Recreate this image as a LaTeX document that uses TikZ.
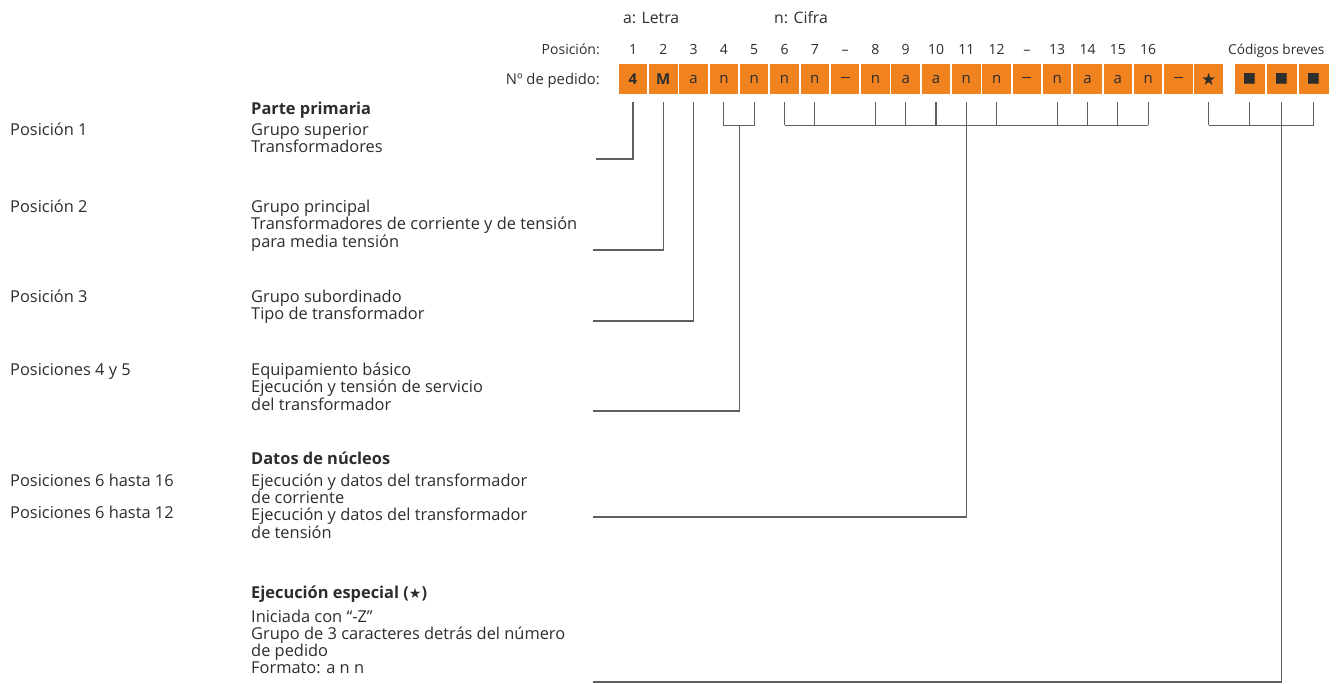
\documentclass[tikz,border=0pt]{standalone}
\usepackage{fontspec}
\setmainfont{Open Sans}
\newfontfamily\symfont{DejaVu Sans}
\usetikzlibrary{calc}
\definecolor{sorange}{RGB}{240,130,32}
\definecolor{txtc}{RGB}{45,45,45}
\definecolor{lnc}{RGB}{95,95,95}
\newcommand\mainf{\fontsize{16.4}{16.6}\selectfont}
\newcommand\smallf{\fontsize{14}{15}\selectfont}
\newcommand\cellf{\fontsize{15}{16}\selectfont}
\newcommand\blines[1]{\begin{tabular}[t]{@{}l@{}}#1\end{tabular}}
\newcommand\celldash{\rule[3.2pt]{9pt}{1.3pt}}
\tikzset{
  cell/.style={fill=sorange, minimum width=28.5pt, minimum height=30pt, inner sep=0pt, font=\cellf, text=txtc},
  ccell/.style={cell, minimum width=30pt},
  txtb/.style={anchor=base west, font=\mainf, text=txtc, inner sep=0pt},
  numl/.style={anchor=base, font=\smallf, text=txtc, inner sep=0pt},
  conn/.style={draw=lnc, line width=1.1pt},
}
\begin{document}
\begin{tikzpicture}[x=1pt,y=-1pt]
\useasboundingbox (0,0) rectangle (1336,683);
% cells of the order number
\foreach \i/\t in {1/\textbf{4},2/\textbf{M},3/a,4/n,5/n,6/n,7/n,8/\celldash,9/n,10/a,11/a,12/n,13/n,14/\celldash,15/n,16/a,17/a,18/n,19/\celldash,20/{\symfont\fontsize{17}{17}\selectfont ★}}
  \node[cell] (b\i) at ({633+30.3*(\i-1)},79) {\t};
\foreach \i/\x in {1/1249.5,2/1281.5,3/1313.5}
  \node[ccell] (c\i) at (\x,79) {\symfont\fontsize{14}{14}\selectfont ■};
% position numbers
\foreach \i/\n in {1/1,2/2,3/3,4/4,5/5,6/6,7/7,8/–,9/8,10/9,11/10,12/11,13/12,14/–,15/13,16/14,17/15,18/16}
  \node[numl] (n\i) at (b\i |- 0,54) {\n};
\node[numl, anchor=base east] (pos) at (600,54) {Posición:};
\node[numl, anchor=base west, font=\fontsize{13.6}{15}\selectfont] (cod) at (1228,54) {Códigos breves};
\node[txtb, anchor=base east, font=\fontsize{14.8}{16}\selectfont] (ped) at (600,84.5) {Nº de pedido:};
\node[txtb, font=\fontsize{15.8}{16}\selectfont] (letra) at (623,23) {a: Letra};
\node[txtb, font=\fontsize{15.8}{16}\selectfont] (cifra) at (774,23) {n: Cifra};
% left column
\node[txtb] (p1) at (10,135) {Posición 1};
\node[txtb] (p2) at (10,212) {Posición 2};
\node[txtb] (p3) at (10,302) {Posición 3};
\node[txtb] (p4) at (10,375) {Posiciones 4 y 5};
\node[txtb] (p5) at (10,486) {Posiciones 6 hasta 16};
\node[txtb] (p6) at (10,518) {Posiciones 6 hasta 12};
% descriptions
\node[txtb, font=\mainf\bfseries] (h1) at (251,114) {Parte primaria};
\node[txtb] (d1) at (251,135) {\blines{Grupo superior\\Transformadores}};
\node[txtb] (d2) at (251,212) {\blines{Grupo principal\\Transformadores de corriente y de tensión\\para media tensión}};
\node[txtb] (d3) at (251,302) {\blines{Grupo subordinado\\Tipo de transformador}};
\node[txtb] (d4) at (251,375) {\blines{Equipamiento básico\\Ejecución y tensión de servicio\\del transformador}};
\node[txtb, font=\mainf\bfseries] (h2) at (251,464) {Datos de núcleos};
\node[txtb] (d5) at (251,486) {\blines{Ejecución y datos del transformador\\de corriente\\Ejecución y datos del transformador\\de tensión}};
\node[txtb, font=\mainf\bfseries] (h3) at (251,598) {Ejecución especial ({\symfont\mdseries\fontsize{14}{14}\selectfont ★})};
\node[txtb] (d6) at (251,622) {\blines{Iniciada con “-Z”\\Grupo de 3 caracteres detrás del número\\de pedido\\Formato: a n n}};
% connector ends
\coordinate (e1) at (596,159);
\coordinate (e2) at (593,250);
\coordinate (e3) at (593,321);
\coordinate (e4) at (593,411);
\coordinate (e5) at (593,517);
\coordinate (e6) at (593,682);
% single connectors
\draw[conn] ([yshift=-8pt]b1.south) |- (e1);
\draw[conn] ([yshift=-8pt]b2.south) |- (e2);
\draw[conn] ([yshift=-8pt]b3.south) |- (e3);
% bracket 4-5
\draw[conn] ([yshift=-8pt]b4.south) -- ([yshift=-31pt]b4.south) -- ([yshift=-31pt]b5.south) -- ([yshift=-8pt]b5.south);
\coordinate (m45) at ($([yshift=-31pt]b4.south)!0.5!([yshift=-31pt]b5.south)$);
\draw[conn] (m45) |- (e4);
% bracket 6-16
\draw[conn] ([yshift=-31pt]b6.south) -- ([yshift=-31pt]b18.south);
\foreach \i in {6,7,9,10,11,12,13,15,16,17,18}
  \draw[conn] ([yshift=-8pt]b\i.south) -- ([yshift=-31pt]b\i.south);
\draw[conn] ([yshift=-31pt]b12.south) |- (e5);
% bracket special
\draw[conn] ([yshift=-31pt]b20.south) -- ([yshift=-31pt]c3.south);
\foreach \n in {b20,c1,c2,c3}
  \draw[conn] ([yshift=-8pt]\n.south) -- ([yshift=-31pt]\n.south);
\draw[conn] ([yshift=-31pt]c2.south) |- (e6);
\end{tikzpicture}
\end{document}
